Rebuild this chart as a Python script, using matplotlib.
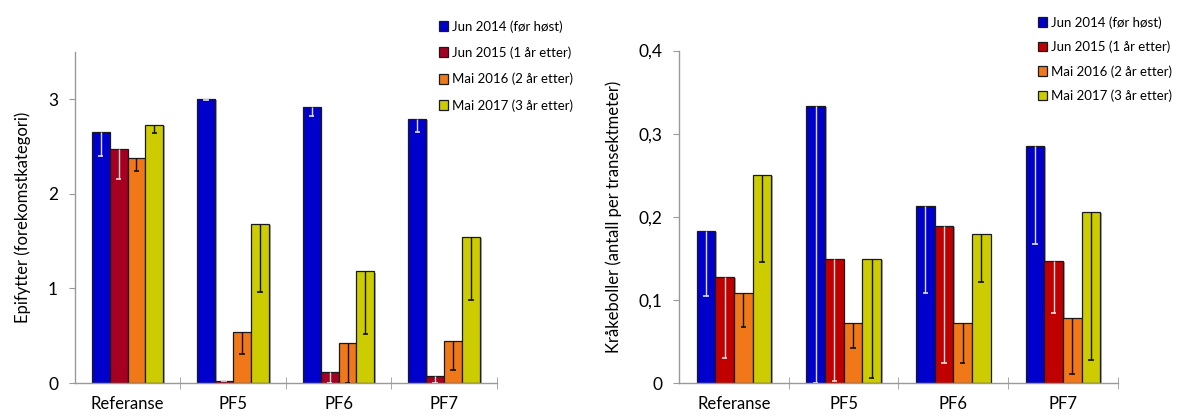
import numpy as np
import matplotlib
matplotlib.use("Agg")
import matplotlib.pyplot as plt
import matplotlib.patheffects as pe

plt.rcParams['font.family'] = ['Lato', 'DejaVu Sans']

# data
sites = ['Referanse', 'PF5', 'PF6', 'PF7']
series = ['Jun 2014 (før høst)', 'Jun 2015 (1 år etter)',
          'Mai 2016 (2 år etter)', 'Mai 2017 (3 år etter)']

epi_vals = [[2.65, 3.00, 2.92, 2.79],
            [2.47, 0.025, 0.12, 0.07],
            [2.38, 0.54, 0.42, 0.44],
            [2.73, 1.68, 1.18, 1.54]]
epi_low = [[2.40, 2.99, 2.82, 2.65],
           [2.16, 0.025, 0.0, 0.0],
           [2.24, 0.31, 0.0, 0.14],
           [2.64, 0.96, 0.52, 0.88]]

kra_vals = [[0.183, 0.333, 0.213, 0.285],
            [0.128, 0.149, 0.189, 0.147],
            [0.109, 0.072, 0.073, 0.078],
            [0.251, 0.150, 0.179, 0.206]]
kra_low = [[0.105, 0.0, 0.109, 0.167],
           [0.030, 0.003, 0.025, 0.084],
           [0.068, 0.043, 0.025, 0.011],
           [0.146, 0.006, 0.122, 0.028]]

colors_left = ['#0000cc', '#a50021', '#f07818', '#cccc00']
colors_right = ['#0000cc', '#c00000', '#f07818', '#cccc00']
err_colors = ['#dddddd', '#dddddd', '#111111', '#111111']

W = 0.17
shadow = [pe.SimplePatchShadow(offset=(1.2, -0.8), shadow_rgbFace='#555555', alpha=0.5), pe.Normal()]


def draw_panel(ax, vals, lows, colors, ylim, yticks, yticklabels, ylabel):
    x = np.arange(len(sites))
    for i in range(4):
        v = np.array(vals[i])
        lo = np.array(lows[i])
        pos = x + (i - 1.5) * W
        bars = ax.bar(pos, v, W, color=colors[i], edgecolor='#1a1a1a', linewidth=0.9,
                      label=series[i], zorder=2)
        for b in bars:
            b.set_path_effects(shadow)
        # one-sided (lower) error bars, cap only at the lower end
        ax.vlines(pos, lo, v, color=err_colors[i], linewidth=1.0, zorder=3)
        ax.hlines(lo, pos - 0.025, pos + 0.025, color=err_colors[i], linewidth=1.2, zorder=3)
    ax.set_xlim(-0.5, 3.5)
    ax.set_ylim(*ylim)
    ax.set_xticks(x)
    ax.set_xticklabels(sites, fontsize=12)
    ax.set_xticks(np.arange(0.5, 3.6, 1.0), minor=True)
    ax.tick_params(axis='x', which='major', length=0, pad=9)
    ax.tick_params(axis='x', which='minor', length=8, direction='inout', color='#999999')
    ax.set_yticks(yticks)
    ax.set_yticklabels(yticklabels, fontsize=12.5)
    ax.tick_params(axis='y', length=4, color='#999999', pad=8)
    for s in ['top', 'right']:
        ax.spines[s].set_visible(False)
    for s in ['left', 'bottom']:
        ax.spines[s].set_color('#999999')
        ax.spines[s].set_linewidth(1.0)
    ax.set_ylabel(ylabel, fontsize=12, labelpad=12)


fig = plt.figure(figsize=(11.79, 4.16), dpi=100)
ax1 = fig.add_axes([0.0634, 0.0793, 0.358, 0.7957])
ax2 = fig.add_axes([0.576, 0.0785, 0.372, 0.800])

draw_panel(ax1, epi_vals, epi_low, colors_left, (0, 3.5), [0, 1, 2, 3],
           ['0', '1', '2', '3'], 'Epifytter (forekomstkategori)')
draw_panel(ax2, kra_vals, kra_low, colors_right, (0, 0.4), [0, 0.1, 0.2, 0.3, 0.4],
           ['0', '0,1', '0,2', '0,3', '0,4'], 'Kråkeboller (antall per transektmeter)')

for ax, anchor, spacing in [(ax1, (0.372, 0.952), 1.05), (ax2, (0.880, 0.961), 0.90)]:
    h, l = ax.get_legend_handles_labels()
    leg = fig.legend(h, l, loc='upper left', bbox_to_anchor=anchor, frameon=False,
                     fontsize=9.5, handlelength=0.75, handleheight=0.75, handletextpad=0.3,
                     labelspacing=spacing, borderaxespad=0, borderpad=0)
    for p in leg.get_patches():
        p.set_path_effects([pe.Normal()])

fig.savefig('out.png', dpi=100)
